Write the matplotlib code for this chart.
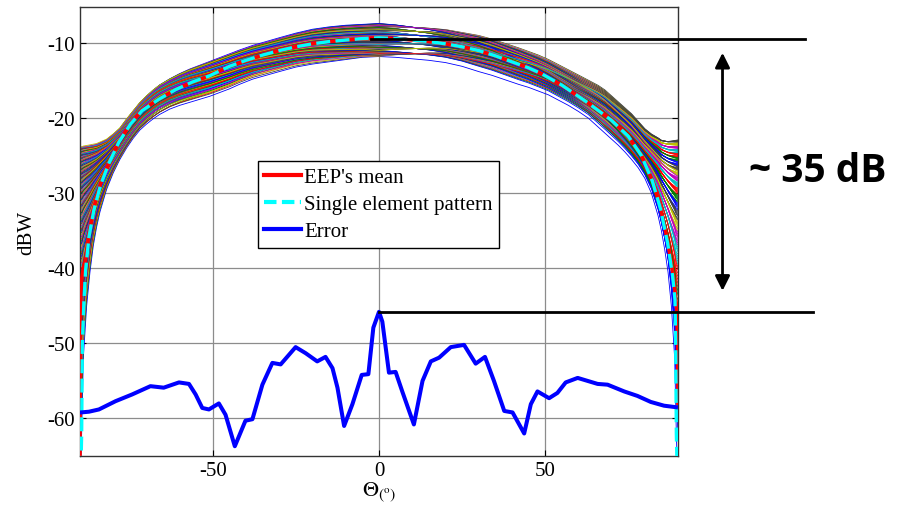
import numpy as np
import matplotlib
matplotlib.use("Agg")
import matplotlib.pyplot as plt
from matplotlib.lines import Line2D

plt.rcParams['font.family'] = ['Liberation Serif', 'DejaVu Serif']
plt.rcParams['axes.unicode_minus'] = False
plt.rcParams['mathtext.fontset'] = 'stix'

# ---------------- data ----------------
# Single element pattern (dB)
pattern_theta = [-90, -89.8, -89.5, -89.3, -88.8, -88.3, -87.3, -85.8, -83.8, -81.3, -78.3,
                 -74.8, -71.3, -66.3, -61.2, -56.2, -51.2, -45, -40, -35, -30, -25, -20,
                 -15, -10, -5, 0, 5, 10, 15, 20, 25, 30, 35, 40, 45, 49, 55, 63, 70, 75,
                 79, 82.3, 84.8, 86.9, 88.4, 89.1, 89.3, 89.5, 89.8, 90]
pattern_db = [-72, -68, -62, -50, -44.4, -40.2, -35.8, -32.2, -28.9, -26.0, -23.2,
              -20.8, -19.0, -17.5, -16.2, -15.2, -14.4, -13.1, -12.3, -11.6, -11.0, -10.5, -10.1,
              -9.8, -9.6, -9.4, -9.3, -9.4, -9.6, -9.8, -10.1, -10.5, -11.0, -11.7, -12.5,
              -13.3, -14.1, -15.6, -18.0, -20.3, -22.4, -25.0, -28.4, -32.2, -36.7, -41.1,
              -44.2, -50, -62, -68, -72]

# EEP's mean (dB)
mean_theta = [-90, -89.95, -89.8, -89.5, -89.0, -88.3, -87.3, -85.8, -83.8, -81.3, -78.3,
              -74.8, -71.3, -66.3, -61.2, -56.2, -51.2, -45, -40, -35, -30, -25, -20,
              -15, -10, -5, 0, 5, 10, 15, 20, 25, 30, 35, 40, 45, 49, 55, 63, 70, 75,
              79, 82.3, 84.8, 86.9, 88.4, 89.1, 89.6, 89.9, 90]
mean_db = [-66, -47, -43.5, -41.5, -40.0, -38.8, -35.3, -31.9, -28.7, -25.9, -23.1,
           -20.8, -18.9, -17.5, -16.2, -15.2, -14.4, -13.1, -12.3, -11.6, -11.0, -10.5, -10.1,
           -9.8, -9.6, -9.4, -9.3, -9.4, -9.6, -9.8, -10.1, -10.5, -11.0, -11.7, -12.5,
           -13.3, -14.1, -15.6, -18.0, -20.3, -22.4, -25.0, -28.3, -32.0, -36.4, -40.5,
           -43.0, -45.5, -50, -58]

# Error curve (dB)
error_theta = [-89.8, -87.3, -84.3, -79.3, -74.3, -68.8, -64.8, -60.2, -57.2, -55.2, -53.2,
               -51.2, -48.2, -46.2, -43.4, -40.2, -38.1, -35.1, -32.1, -29.6, -25.1, -22.1,
               -18.6, -16.1, -14.0, -12.5, -10.5, -8.0, -5.2, -3.2, -1.7, 0, 1.0, 3.0, 5.0,
               7.0, 10.5, 13.1, 15.6, 18.1, 21.6, 25.6, 29.1, 31.9, 34.6, 37.7, 40.2, 43.7,
               45.7, 47.7, 51.2, 53.7, 56.2, 59.8, 65.8, 68.8, 73.8, 77.8, 81.8, 85.8, 89.4]
error_db = [-59.2, -59.1, -58.8, -57.7, -56.8, -55.7, -55.9, -55.2, -55.4, -56.8, -58.6,
            -58.8, -58.0, -59.5, -63.7, -60.3, -60.1, -55.5, -52.6, -52.8, -50.5, -51.3,
            -52.4, -51.8, -53.3, -55.9, -61.0, -58.1, -54.2, -54.1, -47.9, -45.8, -47.1,
            -53.9, -53.8, -56.4, -60.8, -55.0, -52.4, -51.9, -50.5, -50.2, -52.7, -51.8,
            -55.0, -59.0, -59.2, -62.0, -58.1, -56.4, -57.3, -56.6, -55.2, -54.6, -55.4,
            -55.5, -56.4, -57.0, -57.8, -58.3, -58.5]

# Spread of the individual embedded element patterns (upper / lower envelopes, dB)
band_theta = [-90, -89.5, -89, -88, -87, -86, -85, -84, -82, -80,
              -78, -76, -74, -72, -70, -68, -66, -63, -60, -57,
              -54, -51, -48, -45, -42, -38, -34, -30, -25, -20,
              -15, -10, -5, 0, 5, 10, 15, 20, 25, 30,
              34, 38, 42, 45, 48, 51, 54, 57, 60, 63,
              66, 68, 70, 72, 74, 76, 78, 80, 82, 84,
              85, 86, 87, 88, 89, 89.5, 90]
band_upper = [-23.8, -23.8, -23.7, -23.6, -23.5, -23.4, -23.3, -23.1, -22.7, -22.0,
              -21.2, -20.0, -18.9, -17.8, -16.9, -16.1, -15.4, -14.6, -13.9, -13.3,
              -12.8, -12.3, -11.8, -11.3, -10.8, -10.2, -9.7, -9.2, -8.6, -8.1,
              -7.8, -7.6, -7.5, -7.4, -7.4, -7.5, -7.6, -7.8, -8.2, -8.6,
              -9.1, -9.7, -10.3, -10.8, -11.3, -11.9, -12.6, -13.3, -14.0, -14.7,
              -15.4, -16.0, -16.8, -17.6, -18.4, -19.2, -20.2, -21.2, -21.9, -22.4,
              -22.7, -22.8, -22.9, -22.9, -22.9, -22.9, -22.9]
band_lower = [-70, -62, -52, -45, -40.5, -37, -34.5, -32.5, -29.5, -27.3,
              -25.5, -24.0, -22.7, -21.6, -20.8, -20.1, -19.5, -18.8, -18.3, -17.9,
              -17.5, -17.1, -16.6, -16.1, -15.5, -14.8, -14.3, -13.8, -13.2, -12.8,
              -12.5, -12.2, -11.9, -11.8, -11.9, -12.1, -12.3, -12.6, -13.1, -13.8,
              -14.3, -14.9, -15.5, -15.9, -16.4, -16.9, -17.6, -18.3, -19.1, -20.0,
              -21.2, -22.0, -22.8, -23.6, -24.5, -25.5, -26.6, -28.0, -30.0, -33.0,
              -35.0, -37.5, -40.5, -45, -52, -62, -70]
n_curves = 160

peak_level = -9.4      # top reference line
error_peak = -45.8     # error maximum line
label_text = "~ 35 dB"

# ---------------- figure ----------------
fig = plt.figure(figsize=(9, 5.1), dpi=100)
ax = fig.add_axes([80/900, 1-457/510, 598/900, 449/510])

matlab_cols = [(0, 0, 1), (0, 0.5, 0), (1, 0, 0), (0, 0.75, 0.75),
               (0.75, 0, 0.75), (0.75, 0.75, 0), (0.25, 0.25, 0.25)]

bt = np.array(band_theta)
up_amp = 10 ** (np.array(band_upper) / 20)
lo_amp = 10 ** (np.array(band_lower) / 20)
sl = np.clip((bt + 90) / 90, 0, 1)
sr = np.clip(bt / 90, 0, 1)
for k in range(n_curves):
    fl = k / (n_curves - 1)
    fc = ((k * 37) % n_curves) / (n_curves - 1)
    fr = ((k * 61) % n_curves) / (n_curves - 1)
    f = np.where(bt < 0, fl + (fc - fl) * sl, fc + (fr - fc) * sr)
    amp = lo_amp + f * (up_amp - lo_amp)
    ax.plot(bt, 20 * np.log10(amp), color=matlab_cols[k % 7], lw=0.6, zorder=2)

ax.plot(mean_theta, mean_db, color='red', lw=2.6, zorder=3)
ax.plot(pattern_theta, pattern_db, color='cyan', lw=2.4, dashes=(4.2, 1.6), zorder=4)
ax.plot(error_theta, error_db, color='blue', lw=2.9, zorder=5, solid_joinstyle='round')

ax.set_xlim(-90, 90)
ax.set_ylim(-65, -5.2)
ax.set_xticks([-50, 0, 50])
ax.set_yticks([-60, -50, -40, -30, -20, -10])
ax.grid(True, color='#8c8c8c', lw=0.9, zorder=0)
ax.set_axisbelow(True)
ax.tick_params(direction='in', length=4, labelsize=15, top=True, right=True, width=0.8)
for sp in ax.spines.values():
    sp.set_linewidth(1.0)
    sp.set_color('#333333')

ax.set_ylabel('dBW', fontsize=15, labelpad=8)
ax.set_xlabel(r'$\Theta_{(^{\mathrm{o}})}$', fontsize=16, labelpad=0)

# legend
handles = [Line2D([], [], color='red', lw=3),
           Line2D([], [], color='cyan', lw=3, dashes=(3, 1.3)),
           Line2D([], [], color='blue', lw=3)]
leg = ax.legend(handles, ["EEP's mean", 'Single element pattern', 'Error'],
                loc='upper left', bbox_to_anchor=(0.298, 0.656), fontsize=15,
                frameon=True, fancybox=False, framealpha=1, edgecolor='black',
                handlelength=1.75, handletextpad=0.15, borderpad=0.3, labelspacing=0.36,
                borderaxespad=0)
leg.get_frame().set_linewidth(1.0)
leg.set_zorder(10)

# annotation lines and arrow
ax.plot([-2.5, 128.2], [peak_level, peak_level], color='black', lw=2, clip_on=False, zorder=8)
ax.plot([0, 130.6], [error_peak, error_peak], color='black', lw=2, clip_on=False, zorder=8)
ax.annotate('', xy=(103.4, -11.3), xytext=(103.4, -43.0), xycoords='data',
            arrowprops=dict(arrowstyle='<|-|>', color='black', lw=2, mutation_scale=22,
                            shrinkA=0, shrinkB=0), annotation_clip=False)
fig.text(818/900, 1-172/510, label_text, fontsize=28, fontweight='bold',
         family=['Open Sans', 'DejaVu Sans'], ha='center', va='center')

fig.savefig('out.png', dpi=100)
